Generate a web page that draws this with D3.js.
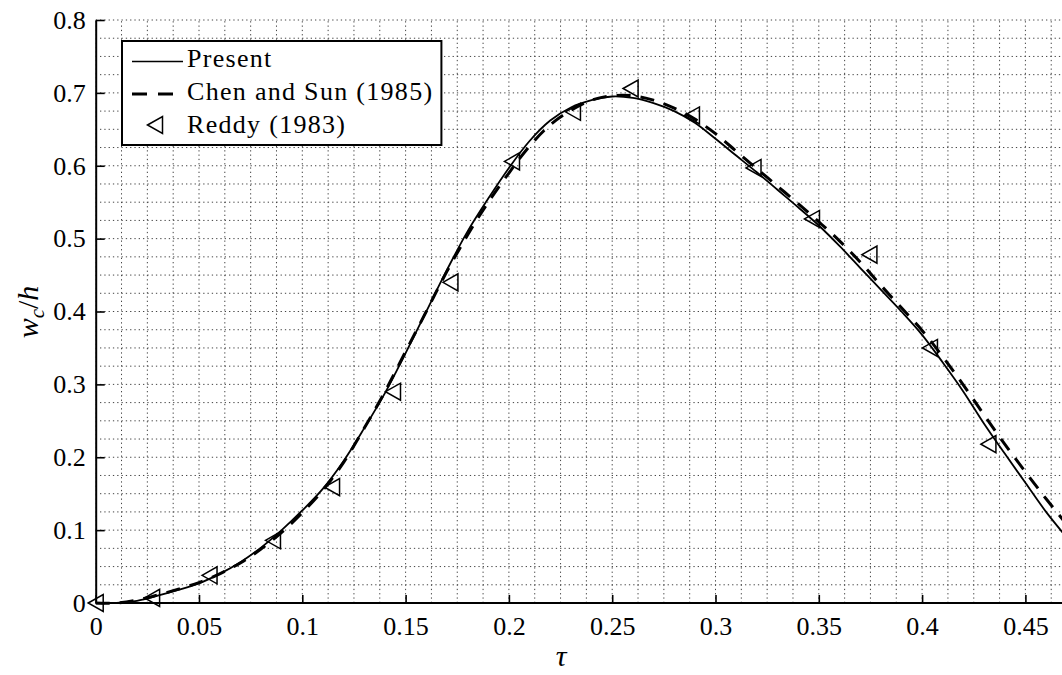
<!DOCTYPE html>
<html><head><meta charset="utf-8">
<script src="https://cdn.jsdelivr.net/npm/d3@7"></script>
<style>
html,body{margin:0;padding:0;background:#fff;}
svg{display:block;}
svg text{font-family:"Liberation Serif","Times New Roman",Times,serif !important;fill:#000;}
</style></head>
<body>
<svg id="chart" width="1062" height="675"></svg>
<script>
// ---- data ----
const tauPresent = [0,0.01,0.02,0.03,0.04,0.05,0.06,0.07,0.08,0.09,0.10,0.11,0.12,0.13,0.14,0.15,0.16,0.17,0.18,0.19,0.20,0.21,0.22,0.23,0.24,0.25,0.26,0.27,0.28,0.29,0.30,0.31,0.32,0.33,0.34,0.35,0.36,0.37,0.38,0.39,0.40,0.41,0.42,0.43,0.44,0.45,0.46,0.47];
const wPresent   = [0,0.000,0.003,0.010,0.018,0.027,0.040,0.056,0.076,0.100,0.127,0.157,0.195,0.240,0.288,0.343,0.400,0.457,0.510,0.555,0.597,0.634,0.662,0.680,0.690,0.695,0.693,0.686,0.675,0.659,0.637,0.614,0.591,0.567,0.543,0.518,0.490,0.460,0.430,0.400,0.368,0.330,0.290,0.246,0.205,0.165,0.125,0.090];
const tauChen = [0,0.01,0.02,0.03,0.04,0.05,0.06,0.07,0.08,0.09,0.10,0.11,0.12,0.13,0.14,0.15,0.16,0.17,0.18,0.19,0.20,0.21,0.22,0.23,0.24,0.25,0.26,0.27,0.28,0.29,0.30,0.31,0.32,0.33,0.34,0.35,0.36,0.37,0.38,0.39,0.40,0.41,0.42,0.43,0.44,0.45,0.46,0.47];
const wChen   = [0,0.000,0.004,0.011,0.019,0.028,0.040,0.055,0.074,0.097,0.124,0.155,0.193,0.240,0.290,0.345,0.400,0.455,0.505,0.550,0.590,0.627,0.656,0.676,0.690,0.696,0.696,0.690,0.679,0.664,0.644,0.620,0.596,0.572,0.548,0.523,0.497,0.468,0.436,0.405,0.374,0.338,0.299,0.258,0.218,0.180,0.143,0.108];
const tauReddy = [0,0.0273,0.0551,0.0858,0.1144,0.1439,0.1717,0.2015,0.2310,0.2589,0.2886,0.3184,0.3467,0.3745,0.4038,0.4321];
const wReddy   = [0,0.007,0.038,0.086,0.159,0.290,0.440,0.606,0.674,0.706,0.669,0.597,0.527,0.478,0.350,0.218];
const xTicks = [0,0.05,0.1,0.15,0.2,0.25,0.3,0.35,0.4,0.45];
const yTicks = [0,0.1,0.2,0.3,0.4,0.5,0.6,0.7,0.8];
const xTickLabels = ["0","0.05","0.1","0.15","0.2","0.25","0.3","0.35","0.4","0.45"];
const yTickLabels = ["0","0.1","0.2","0.3","0.4","0.5","0.6","0.7","0.8"];
const seriesNames = ["Present","Chen and Sun (1985)","Reddy (1983)"];

// ---- layout ----
const svg = d3.select("#chart");
const x0 = 95.7, x45 = 1025.4, yTop = 20, yBot = 603;
const x = d3.scaleLinear().domain([0,0.45]).range([x0,x45]);
const y = d3.scaleLinear().domain([0,0.8]).range([yBot,yTop]);
const xMax = x.invert(1062);

svg.append("defs").append("clipPath").attr("id","clip")
  .append("rect").attr("x",x0).attr("y",yTop-2).attr("width",1062-x0).attr("height",yBot-yTop+4);

// grid
const gridX = d3.range(0, xMax+1e-9, 0.0125);
const gridY = d3.range(0, 0.8+1e-9, 0.025);
const g = svg.append("g").attr("clip-path","url(#clip)");
g.selectAll("line.gx").data(gridX).enter().append("line")
  .attr("x1",d=>x(d)).attr("x2",d=>x(d)).attr("y1",yBot).attr("y2",yTop)
  .attr("stroke","#444").attr("stroke-width",1).attr("stroke-dasharray","1.3,3");
g.selectAll("line.gy").data(gridY).enter().append("line")
  .attr("x1",x0).attr("x2",1062).attr("y1",d=>y(d)).attr("y2",d=>y(d))
  .attr("stroke","#444").attr("stroke-width",1).attr("stroke-dasharray","1.3,3");

// axes
const xAxis = d3.axisBottom(x).tickValues(xTicks).tickFormat((d,i)=>xTickLabels[i]).tickSizeInner(-8).tickSizeOuter(0).tickPadding(14);
const yAxis = d3.axisLeft(y).tickValues(yTicks).tickFormat((d,i)=>yTickLabels[i]).tickSizeInner(-9).tickSizeOuter(0).tickPadding(10);
const gx = svg.append("g").attr("transform",`translate(0,${yBot})`).call(xAxis);
const gy = svg.append("g").attr("transform",`translate(${x0},0)`).call(yAxis);
[gx,gy].forEach(a=>{
  a.attr("font-family",null).attr("font-size",null);
  a.select(".domain").attr("stroke","#000").attr("stroke-width",2);
  a.selectAll(".tick line").attr("stroke","#000").attr("stroke-width",1.6);
  a.selectAll(".tick text").attr("font-size",26).attr("fill","#000");
});
gx.select(".domain").attr("d",`M${x0},0H1062`);
gx.selectAll(".tick text").attr("dy","0.71em");

// curves
const line = d3.line().x(d=>x(d[0])).y(d=>y(d[1])).curve(d3.curveCatmullRom.alpha(0.5));
const cg = svg.append("g").attr("clip-path","url(#clip)");
cg.append("path").datum(tauChen.map((t,i)=>[t,wChen[i]])).attr("d",line)
  .attr("fill","none").attr("stroke","#000").attr("stroke-width",3).attr("stroke-dasharray","14,10");
cg.append("path").datum(tauPresent.map((t,i)=>[t,wPresent[i]])).attr("d",line)
  .attr("fill","none").attr("stroke","#000").attr("stroke-width",1.8);

// markers
const tri = "M-7.5,0L7.5,-8.5L7.5,8.5Z";
svg.append("g").selectAll("path").data(tauReddy.map((t,i)=>[t,wReddy[i]])).enter().append("path")
  .attr("d",tri).attr("transform",d=>`translate(${x(d[0])},${y(d[1])})`)
  .attr("fill","none").attr("stroke","#000").attr("stroke-width",1.5);

// axis labels
svg.append("text").attr("x",561).attr("y",666).attr("text-anchor","middle")
  .attr("font-size",30).attr("font-style","italic").text("τ");
const yl = svg.append("text").attr("transform","translate(38,312) rotate(-90)").attr("text-anchor","middle")
  .attr("font-size",30);
yl.append("tspan").attr("font-style","italic").text("w");
yl.append("tspan").attr("font-style","italic").attr("font-size",21).attr("dy",6).text("c");
yl.append("tspan").attr("dy",-6).text("/");
yl.append("tspan").attr("font-style","italic").text("h");

// legend
const lg = svg.append("g");
const box = lg.append("rect").attr("x",122).attr("y",41).attr("height",104)
  .attr("fill","#fff").attr("stroke","#000").attr("stroke-width",2);
const rowsY = [67,100,133];
const texts = seriesNames.map((s,i)=>lg.append("text").attr("x",187).attr("y",rowsY[i])
  .attr("font-size",26).attr("letter-spacing","1.3px").text(s));
lg.append("line").attr("x1",132).attr("x2",183).attr("y1",61.5).attr("y2",61.5).attr("stroke","#000").attr("stroke-width",1.6);
lg.append("line").attr("x1",132).attr("x2",173).attr("y1",94).attr("y2",94).attr("stroke","#000").attr("stroke-width",3).attr("stroke-dasharray","15,11");
lg.append("path").attr("d",tri).attr("transform","translate(155,125)").attr("fill","none").attr("stroke","#000").attr("stroke-width",1.5);
const maxW = d3.max(texts, t=>t.node().getComputedTextLength());
box.attr("width", 187 + maxW + 8 - 122);
</script>
</body></html>
